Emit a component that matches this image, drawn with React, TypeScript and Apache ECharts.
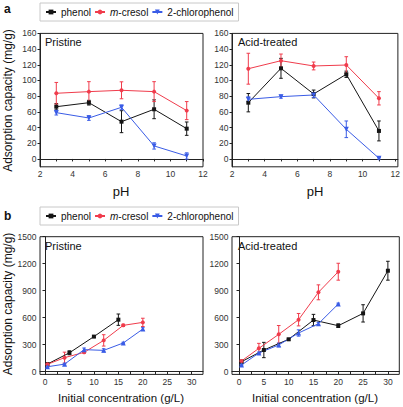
import React, { useEffect, useRef } from "react";
import * as echarts from "echarts";

// ---------- data ----------
const pH = [3, 5, 7, 9, 11];
const aPriPhenol = [66.6, 71.7, 47.5, 63.3, 38.6];
const aPriPhenolErr = [4, 3, 14, 12, 8.5];
const aPriCresol = [83.7, 85.8, 87.5, 85.8, 61.6];
const aPriCresolErr = [13.8, 12.7, 10.8, 12.7, 11.5];
const aPriCP = [59, 52.2, 65.8, 16.6, 3.8];
const aPriCPErr = [3, 3, 3, 4, 4];
const aAcidPhenol = [71.7, 115.5, 82.8, 107.9, 35.7];
const aAcidPhenolErr = [11.7, 12.7, 5, 4, 12.7];
const aAcidCresol = [115, 125.2, 118.5, 119.7, 77.3];
const aAcidCresolErr = [19.7, 8.5, 5, 10.6, 8.5];
const aAcidCP = [76, 79.4, 81.5, 37.8, 0.9];
const aAcidCPErr = [3, 2, 3, 10.6, 1];

const bPriPhenolX = [0.5, 5, 10, 15];
const bPriPhenol = [85, 210, 390, 578];
const bPriPhenolErr = [10, 22, 10, 63];
const bPriCresolX = [0.5, 4, 8, 12, 16, 20];
const bPriCresol = [82, 156, 215, 348, 515, 548];
const bPriCresolErr = [10, 61, 10, 63, 12, 46];
const bPriCPX = [0.5, 4, 8, 12, 16, 20];
const bPriCP = [55, 84, 245, 237, 319, 474];
const bPriCPErr = [8, 10, 18, 18, 8, 15];

const bAcidPhenolX = [0.5, 5, 10, 15, 20, 25, 30];
const bAcidPhenol = [111, 241, 360, 574, 511, 648, 1122];
const bAcidPhenolErr = [10, 85, 10, 63, 20, 96, 105];
const bAcidCresolX = [0.5, 4, 8, 12, 16, 20];
const bAcidCresol = [119, 260, 415, 578, 882, 1111];
const bAcidCresolErr = [10, 55, 98, 69, 83, 94];
const bAcidCPX = [0.5, 4, 8, 12, 16, 20];
const bAcidCP = [74, 208, 297, 430, 533, 752];
const bAcidCPErr = [8, 10, 20, 35, 15, 10];

const seriesNames = ["phenol", "m-cresol", "2-chlorophenol"];
const pHTicks = [2, 4, 6, 8, 10, 12];
const pHMinorTicks = [2, 3, 4, 5, 6, 7, 8, 9, 10, 11, 12];
const concTicks = [0, 5, 10, 15, 20, 25, 30];
const concMinorTicks = [0, 2.5, 5, 7.5, 10, 12.5, 15, 17.5, 20, 22.5, 25, 27.5, 30];
const capATicks = [0, 20, 40, 60, 80, 100, 120, 140, 160];
const capBTicks = [0, 300, 600, 900, 1200, 1500];

const FONT = "'Liberation Sans', Arial, sans-serif";
const BLACK = "#151515";
const RED = "#f03c4c";
const BLUE = "#3a5ce6";
const AXIS = "#222";

const zip = (xs: number[], ys: number[]) => xs.map((x, i) => [x, ys[i]]);
const zip3 = (xs: number[], ys: number[], es: number[]) => xs.map((x, i) => [x, ys[i], es[i]]);

function lineSeries(name: string, idx: number, data: number[][], color: string, symbol: string, rotate: number) {
  return {
    type: "line",
    name,
    xAxisIndex: idx,
    yAxisIndex: idx,
    data,
    color,
    symbol,
    symbolSize: symbol === "triangle" ? 5 : 4,
    symbolRotate: rotate,
    lineStyle: { width: 1, color },
    itemStyle: { color },
    z: 3,
  };
}

function errSeries(idx: number, data: number[][], color: string) {
  return {
    type: "custom",
    name: "err",
    xAxisIndex: idx,
    yAxisIndex: idx,
    data,
    encode: { x: 0, y: 1 },
    z: 2,
    silent: true,
    renderItem: (params: any, api: any) => {
      const x = api.value(0);
      const y = api.value(1);
      const e = api.value(2);
      const hi = api.coord([x, y + e]);
      const lo = api.coord([x, y - e]);
      const w = 1.8;
      const style = { stroke: color, lineWidth: 1 };
      return {
        type: "group",
        children: [
          { type: "line", shape: { x1: hi[0], y1: hi[1], x2: lo[0], y2: lo[1] }, style },
          { type: "line", shape: { x1: hi[0] - w, y1: hi[1], x2: hi[0] + w, y2: hi[1] }, style },
          { type: "line", shape: { x1: lo[0] - w, y1: lo[1], x2: lo[0] + w, y2: lo[1] }, style },
        ],
      };
    },
  };
}

const plain = (v: number) => String(v);

function xAxis(idx: number, min: number, max: number, labels: number[], ticks: number[]) {
  return {
    type: "value",
    gridIndex: idx,
    min,
    max,
    axisLine: { show: true, lineStyle: { color: AXIS, width: 1 } },
    axisTick: { show: true, inside: false, length: 2.5, customValues: ticks, lineStyle: { color: AXIS } },
    axisLabel: { customValues: labels, formatter: plain, margin: 3, fontSize: 8.5, color: "#333", fontFamily: FONT },
    splitLine: { show: false },
  };
}

function yAxis(idx: number, min: number, max: number, labels: number[]) {
  return {
    type: "value",
    gridIndex: idx,
    min,
    max,
    axisLine: { show: true, lineStyle: { color: AXIS, width: 1 } },
    axisTick: { show: true, inside: false, length: 2.5, customValues: labels, lineStyle: { color: AXIS } },
    axisLabel: { customValues: labels, formatter: plain, margin: 3.5, fontSize: 8.5, color: "#333", fontFamily: FONT },
    splitLine: { show: false },
  };
}

function legend(top: number) {
  return {
    top,
    left: 40,
    data: seriesNames,
    orient: "horizontal",
    borderColor: "#c8c8c8",
    borderWidth: 1,
    padding: [4, 5, 4, 5],
    itemGap: 3,
    itemWidth: 10,
    itemHeight: 6,
    formatter: (n: string) => (n === "m-cresol" ? "{i|m}-cresol" : n),
    textStyle: {
      fontSize: 10,
      color: "#111",
      fontFamily: FONT,
      rich: { i: { fontStyle: "italic", fontSize: 10, color: "#111", fontFamily: FONT } },
    },
    selectedMode: false,
  };
}

function text(t: string, x: number, y: number, size: number, opts: any = {}) {
  return {
    type: "text",
    x,
    y,
    rotation: opts.rotation || 0,
    style: {
      text: t,
      fontSize: size,
      fontFamily: FONT,
      fontWeight: opts.bold ? "bold" : "normal",
      fill: "#111",
      textAlign: opts.align || "left",
      textVerticalAlign: "middle",
    },
  };
}

export default function App() {
  const ref = useRef<HTMLDivElement>(null);
  useEffect(() => {
    document.body.style.margin = "0";
    const chart = echarts.init(ref.current!, null, { renderer: "svg" });
    const option: any = {
      animation: false,
      backgroundColor: "#fff",
      legend: [legend(3), legend(207)],
      grid: [
        { left: 40, top: 33.4, width: 163, height: 133.4, show: true, borderColor: AXIS, borderWidth: 1 },
        { left: 232, top: 33.4, width: 167.3, height: 133.4, show: true, borderColor: AXIS, borderWidth: 1 },
        { left: 40, top: 236.7, width: 163, height: 137.7, show: true, borderColor: AXIS, borderWidth: 1 },
        { left: 232, top: 236.7, width: 167.3, height: 137.7, show: true, borderColor: AXIS, borderWidth: 1 },
      ],
      xAxis: [
        xAxis(0, 2, 12, pHTicks, pHMinorTicks),
        xAxis(1, 2, 12.16, pHTicks, pHMinorTicks),
        xAxis(2, -1.02, 32.3, concTicks, concMinorTicks),
        xAxis(3, -1.42, 32.3, concTicks, concMinorTicks),
      ],
      yAxis: [
        yAxis(0, -10, 160, capATicks),
        yAxis(1, -10, 160, capATicks),
        yAxis(2, -30, 1500, capBTicks),
        yAxis(3, -30, 1500, capBTicks),
      ],
      series: [
        lineSeries("phenol", 0, zip(pH, aPriPhenol), BLACK, "rect", 0),
        lineSeries("m-cresol", 0, zip(pH, aPriCresol), RED, "circle", 0),
        lineSeries("2-chlorophenol", 0, zip(pH, aPriCP), BLUE, "triangle", 180),
        errSeries(0, zip3(pH, aPriPhenol, aPriPhenolErr), BLACK),
        errSeries(0, zip3(pH, aPriCresol, aPriCresolErr), RED),
        errSeries(0, zip3(pH, aPriCP, aPriCPErr), BLUE),

        lineSeries("phenol", 1, zip(pH, aAcidPhenol), BLACK, "rect", 0),
        lineSeries("m-cresol", 1, zip(pH, aAcidCresol), RED, "circle", 0),
        lineSeries("2-chlorophenol", 1, zip(pH, aAcidCP), BLUE, "triangle", 180),
        errSeries(1, zip3(pH, aAcidPhenol, aAcidPhenolErr), BLACK),
        errSeries(1, zip3(pH, aAcidCresol, aAcidCresolErr), RED),
        errSeries(1, zip3(pH, aAcidCP, aAcidCPErr), BLUE),

        lineSeries("phenol", 2, zip(bPriPhenolX, bPriPhenol), BLACK, "rect", 0),
        lineSeries("m-cresol", 2, zip(bPriCresolX, bPriCresol), RED, "circle", 0),
        lineSeries("2-chlorophenol", 2, zip(bPriCPX, bPriCP), BLUE, "triangle", 0),
        errSeries(2, zip3(bPriPhenolX, bPriPhenol, bPriPhenolErr), BLACK),
        errSeries(2, zip3(bPriCresolX, bPriCresol, bPriCresolErr), RED),
        errSeries(2, zip3(bPriCPX, bPriCP, bPriCPErr), BLUE),

        lineSeries("phenol", 3, zip(bAcidPhenolX, bAcidPhenol), BLACK, "rect", 0),
        lineSeries("m-cresol", 3, zip(bAcidCresolX, bAcidCresol), RED, "circle", 0),
        lineSeries("2-chlorophenol", 3, zip(bAcidCPX, bAcidCP), BLUE, "triangle", 0),
        errSeries(3, zip3(bAcidPhenolX, bAcidPhenol, bAcidPhenolErr), BLACK),
        errSeries(3, zip3(bAcidCresolX, bAcidCresol, bAcidCresolErr), RED),
        errSeries(3, zip3(bAcidCPX, bAcidCP, bAcidCPErr), BLUE),
      ],
      graphic: [
        text("a", 4, 8.5, 12, { bold: true }),
        text("b", 4, 215.5, 12, { bold: true }),
        text("Pristine", 45, 41.7, 11),
        text("Acid-treated", 238, 42, 11),
        text("Pristine", 45, 246, 11),
        text("Acid-treated", 238, 246, 11),
        text("pH", 121, 191, 13, { align: "center" }),
        text("pH", 315, 191, 13, { align: "center" }),
        text("Initial concentration (g/L)", 121, 397.5, 11.5, { align: "center" }),
        text("Initial concentration (g/L)", 315, 397.5, 11.5, { align: "center" }),
        text("Adsorption capacity (mg/g)", 7.7, 100.5, 12, { align: "center", rotation: Math.PI / 2 }),
        text("Adsorption capacity (mg/g)", 7.7, 304, 12, { align: "center", rotation: Math.PI / 2 }),
      ],
    };
    chart.setOption(option);
    return () => chart.dispose();
  }, []);
  return <div ref={ref} style={{ width: 403, height: 407 }} />;
}
